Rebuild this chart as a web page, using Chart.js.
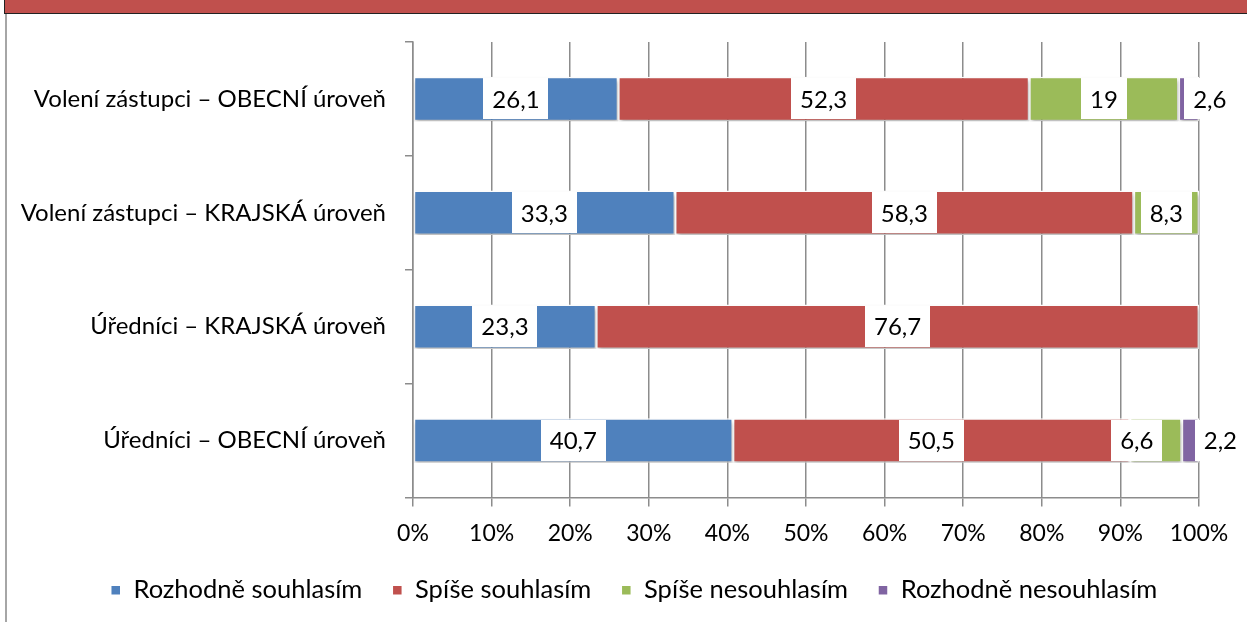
<!DOCTYPE html>
<html>
<head>
<meta charset="utf-8">
<script src="https://cdn.jsdelivr.net/npm/chart.js@4/dist/chart.umd.min.js"></script>
<style>
html,body{margin:0;padding:0;background:#fff;}
#wrap{position:relative;width:1247px;height:622px;}
</style>
</head>
<body>
<div id="wrap"><canvas id="c" width="1247" height="622"></canvas></div>
<script>
const categories = [
  "Volení zástupci – OBECNÍ úroveň",
  "Volení zástupci – KRAJSKÁ úroveň",
  "Úředníci – KRAJSKÁ úroveň",
  "Úředníci – OBECNÍ úroveň"
];
const seriesNames = ["Rozhodně souhlasím", "Spíše souhlasím", "Spíše nesouhlasím", "Rozhodně nesouhlasím"];
const rozhodneSouhlasim = [26.1, 33.3, 23.3, 40.7];
const spiseSouhlasim = [52.3, 58.3, 76.7, 50.5];
const spiseNesouhlasim = [19, 8.3, 0, 6.6];
const rozhodneNesouhlasim = [2.6, 0, 0, 2.2];
const xTicks = [0, 10, 20, 30, 40, 50, 60, 70, 80, 90, 100];

const colors = ["#4f81bd", "#c0504d", "#9bbb59", "#8064a2"];
const FONT = "Lato";

const rawSeries = [rozhodneSouhlasim, spiseSouhlasim, spiseNesouhlasim, rozhodneNesouhlasim];
const totals = categories.map((_, i) => rawSeries.reduce((s, a) => s + a[i], 0));

const frame = {
  id: 'frame',
  beforeDraw(chart) {
    const ctx = chart.ctx;
    ctx.save();
    ctx.fillStyle = '#fff';
    ctx.fillRect(0, 0, chart.width, chart.height);
    ctx.fillStyle = '#c0504d';
    ctx.fillRect(4, 0, chart.width - 4, 13);
    ctx.fillStyle = '#222';
    ctx.fillRect(4, 13, chart.width - 4, 1);
    ctx.fillRect(4, 0, 1, 14);
    ctx.fillStyle = '#a6a6a6';
    ctx.fillRect(5, 14, 2, chart.height - 14);
    ctx.restore();
  }
};

const shadow = {
  id: 'shadow',
  beforeDatasetsDraw(chart) {
    const ctx = chart.ctx;
    ctx.save();
    ctx.shadowColor = 'rgba(0,0,0,0.28)';
    ctx.shadowBlur = 4;
    ctx.shadowOffsetX = 1;
    ctx.shadowOffsetY = 3;
  },
  afterDatasetsDraw(chart) {
    chart.ctx.restore();
  }
};

const legendShift = {
  id: 'legendShift',
  afterLayout(chart) {
    const lg = chart.legend;
    if (!lg) return;
    const d = 634 - (lg.left + lg.right) / 2;
    lg.left += d; lg.right += d;
  }
};

const nudge = { "3-0": 21, "2-3": -19, "3-3": 30 };

const boxLabels = {
  id: 'boxLabels',
  afterDatasetsDraw(chart) {
    const ctx = chart.ctx;
    ctx.save();
    ctx.font = "24px " + FONT;
    ctx.textAlign = 'center';
    ctx.textBaseline = 'middle';
    chart.data.datasets.forEach((ds, di) => {
      const meta = chart.getDatasetMeta(di);
      meta.data.forEach((bar, i) => {
        const v = ds.raw[i];
        if (!v) return;
        const txt = String(v).replace('.', ',');
        const left = Math.min(bar.x, bar.base), right = Math.max(bar.x, bar.base);
        const cx = (left + right) / 2 + (nudge[di + '-' + i] || 0);
        const w = ctx.measureText(txt).width + 18;
        const h = bar.height - 3;
        ctx.fillStyle = '#fff';
        ctx.fillRect(Math.round(cx - w / 2), Math.round(bar.y - h / 2), Math.round(w), Math.round(h));
        ctx.fillStyle = '#000';
        ctx.fillText(txt, cx, bar.y + 1);
      });
    });
    ctx.restore();
  }
};

new Chart(document.getElementById('c'), {
  type: 'bar',
  data: {
    labels: categories,
    datasets: rawSeries.map((arr, k) => ({
      label: seriesNames[k],
      raw: arr,
      data: arr.map((v, i) => v / totals[i] * 100),
      backgroundColor: colors[k],
      borderColor: '#ffffff',
      borderWidth: 1.5,
      borderSkipped: false,
      barPercentage: 0.39,
      categoryPercentage: 1
    }))
  },
  options: {
    indexAxis: 'y',
    responsive: false,
    animation: false,
    devicePixelRatio: 1,
    layout: { padding: { top: 42, right: 48, left: 0, bottom: 9 } },
    plugins: {
      tooltip: { enabled: false },
      legend: {
        position: 'bottom',
        labels: {
          font: { family: FONT, size: 25.5 },
          color: '#000',
          boxWidth: 10,
          boxHeight: 10,
          padding: 30
        }
      }
    },
    scales: {
      x: {
        stacked: true,
        min: 0, max: 100,
        afterBuildTicks(scale) { scale.ticks = xTicks.map(v => ({ value: v })); },
        afterFit(scale) { scale.height = 50; },
        ticks: {
          callback: v => v + '%',
          font: { family: FONT, size: 23 },
          color: '#000',
          padding: 13
        },
        grid: { color: '#8c8c8c', lineWidth: 1.5, tickLength: 9, drawOnChartArea: true },
        border: { color: '#8c8c8c', width: 1.5 }
      },
      y: {
        stacked: true,
        afterFit(scale) { scale.width = 413; },
        ticks: {
          font: { family: FONT, size: 24 },
          color: '#000',
          padding: 19
        },
        grid: { offset: true, drawOnChartArea: false, color: '#8c8c8c', lineWidth: 1.5, tickLength: 8 },
        border: { color: '#8c8c8c', width: 1.5 }
      }
    }
  },
  plugins: [frame, shadow, legendShift, boxLabels]
});
</script>
</body>
</html>
